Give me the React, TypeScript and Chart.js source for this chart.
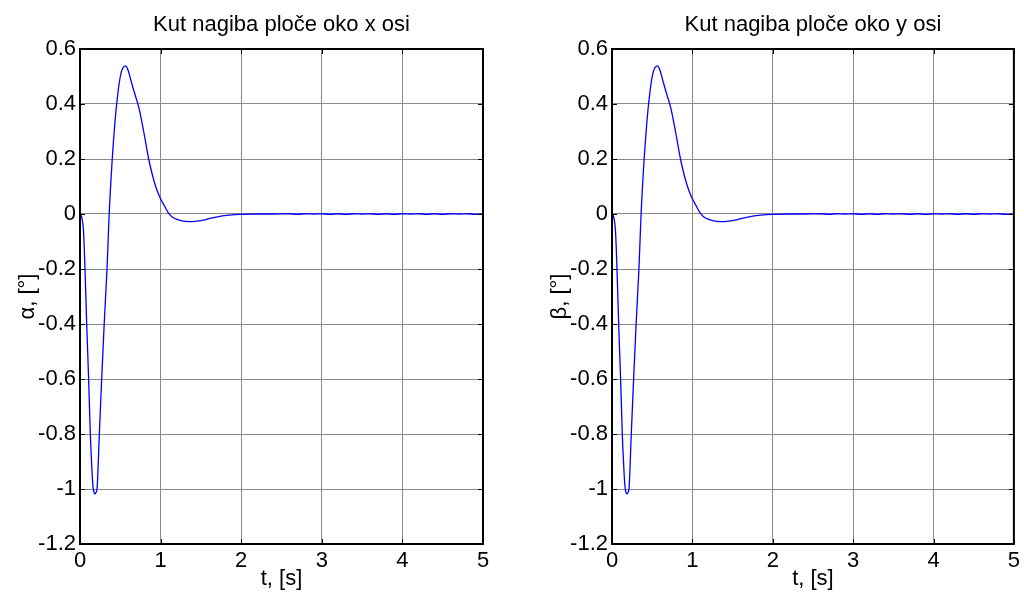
import React, { useEffect, useRef } from "react";
import { Chart, registerables } from "chart.js";

Chart.register(...registerables);

// time axis samples [s]
const timeValues = [
  0, 0.02, 0.037, 0.045, 0.062, 0.083, 0.107, 0.128, 0.15, 0.161, 0.175, 0.186, 0.198, 0.211,
  0.24, 0.269, 0.3, 0.335, 0.362, 0.4, 0.43, 0.455, 0.5, 0.53, 0.567, 0.6, 0.637, 0.687, 0.732,
  0.79, 0.852, 0.9, 0.939, 0.988, 1.05, 1.096, 1.14, 1.19, 1.25, 1.357, 1.45, 1.55, 1.69, 1.85, 2.0,
  2.2, 2.4, 2.6, 2.7, 2.8, 2.9, 3.0, 3.1, 3.2, 3.3, 3.4, 3.5, 3.6, 3.7, 3.8, 3.9, 4.0, 4.1,
  4.2, 4.3, 4.4, 4.5, 4.6, 4.7, 4.8, 4.9, 5.0,
];

// tilt angle about x axis [deg]
const alphaValues = [
  0, -0.01, -0.04, -0.07, -0.2, -0.4, -0.6, -0.8, -0.94, -0.99, -1.013, -1.018, -1.013, -1.0,
  -0.8, -0.6, -0.4, -0.2, 0, 0.2, 0.32, 0.4, 0.5, 0.53, 0.539, 0.52, 0.48, 0.43, 0.385,
  0.3, 0.2, 0.14, 0.1, 0.063, 0.028, 0.004, -0.01, -0.018, -0.024, -0.028, -0.026, -0.021, -0.011, -0.004, -0.001,
  0, 0, 0.001, -0.001, 0.001, 0, 0.001, -0.001, 0.001, -0.001, 0.001, 0, 0.001, -0.001, 0.001, -0.001,
  0.001, 0, 0.001, -0.001, 0.001, -0.001, 0.001, 0, 0.001, -0.001, 0,
];

// tilt angle about y axis [deg]
const betaValues = [
  0, -0.01, -0.04, -0.07, -0.2, -0.4, -0.6, -0.8, -0.94, -0.99, -1.013, -1.018, -1.013, -1.0,
  -0.8, -0.6, -0.4, -0.2, 0, 0.2, 0.32, 0.4, 0.5, 0.53, 0.539, 0.52, 0.48, 0.43, 0.385,
  0.3, 0.2, 0.14, 0.1, 0.063, 0.028, 0.004, -0.01, -0.018, -0.024, -0.028, -0.026, -0.021, -0.011, -0.004, -0.001,
  0, 0, 0.001, -0.001, 0.001, 0, 0.001, -0.001, 0.001, -0.001, 0.001, 0, 0.001, -0.001, 0.001, -0.001,
  0.001, 0, 0.001, -0.001, 0.001, -0.001, 0.001, 0, 0.001, -0.001, 0,
];

const xTickValues = [0, 1, 2, 3, 4, 5];
const yTickValues = [-1.2, -1, -0.8, -0.6, -0.4, -0.2, 0, 0.2, 0.4, 0.6];

const chartTitles = ["Kut nagiba ploče oko x osi", "Kut nagiba ploče oko y osi"];
const yAxisLabels = ["α, [°]", "β, [°]"];
const xAxisLabel = "t, [s]";

const FONT = "'Liberation Sans', Arial, Helvetica, sans-serif";

const framePlugin = {
  id: "frame",
  afterDatasetsDraw(chart: any) {
    const { ctx, chartArea, scales } = chart;
    const { left, right, top, bottom } = chartArea;
    ctx.save();
    ctx.strokeStyle = "#000";
    ctx.lineWidth = 1;
    ctx.beginPath();
    for (const v of xTickValues) {
      const px = Math.round(scales.x.getPixelForValue(v)) + 0.5;
      ctx.moveTo(px, bottom);
      ctx.lineTo(px, bottom - 5);
      ctx.moveTo(px, top);
      ctx.lineTo(px, top + 5);
    }
    for (const v of yTickValues) {
      const py = Math.round(scales.y.getPixelForValue(v)) + 0.5;
      ctx.moveTo(left, py);
      ctx.lineTo(left + 5, py);
      ctx.moveTo(right, py);
      ctx.lineTo(right - 5, py);
    }
    ctx.stroke();
    ctx.lineWidth = 2;
    ctx.strokeRect(left, top, right - left, bottom - top);
    ctx.restore();
  },
};

type PanelProps = {
  canvasLeft: number;
  padLeft: number;
  padRight: number;
  values: number[];
  title: string;
  yLabel: string;
};

function Panel({ canvasLeft, padLeft, padRight, values, title, yLabel }: PanelProps) {
  const ref = useRef<HTMLCanvasElement | null>(null);
  useEffect(() => {
    if (!ref.current) return;
    const points = timeValues.map((t, i) => ({ x: t, y: values[i] }));
    const chart = new Chart(ref.current, {
      type: "scatter",
      data: {
        datasets: [
          {
            data: points,
            showLine: true,
            borderColor: "#0000ff",
            borderWidth: 1.3,
            pointRadius: 0,
            cubicInterpolationMode: "monotone",
          } as any,
        ],
      },
      options: {
        animation: false,
        responsive: false,
        devicePixelRatio: 1,
        layout: { padding: { left: padLeft, right: padRight, top: 0, bottom: 0 } },
        plugins: {
          legend: { display: false },
          tooltip: { enabled: false },
          title: {
            display: true,
            fullSize: false,
            text: title,
            color: "#000",
            font: { family: FONT, size: 22, weight: "normal" },
            padding: { top: 12, bottom: 10.6 },
          },
        },
        scales: {
          x: {
            type: "linear",
            min: 0,
            max: 5,
            afterBuildTicks: (s: any) => {
              s.ticks = xTickValues.map((v) => ({ value: v }));
            },
            afterFit: (s: any) => {
              s.height = 53;
            },
            ticks: {
              color: "#000",
              font: { family: FONT, size: 22 },
              padding: 4,
              maxRotation: 0,
              autoSkip: false,
              callback: (v: any) => String(v),
            },
            grid: { color: "#8a8a8a", lineWidth: 1, drawTicks: false },
            border: { display: false },
            title: {
              display: true,
              text: xAxisLabel,
              color: "#000",
              font: { family: FONT, size: 22 },
              padding: { top: 0, bottom: 5 },
            },
          },
          y: {
            type: "linear",
            min: -1.2,
            max: 0.6,
            afterBuildTicks: (s: any) => {
              s.ticks = yTickValues.map((v) => ({ value: v }));
            },
            afterFit: (s: any) => {
              s.width = 65;
            },
            ticks: {
              color: "#000",
              font: { family: FONT, size: 22 },
              padding: 4,
              autoSkip: false,
              callback: (v: any) => String(Math.round(Number(v) * 10) / 10 || 0),
            },
            grid: { color: "#8a8a8a", lineWidth: 1, drawTicks: false },
            border: { display: false },
            title: {
              display: true,
              text: yLabel,
              color: "#000",
              font: { family: FONT, size: 22 },
              padding: { top: 0, bottom: 0 },
            },
          },
        },
      },
      plugins: [framePlugin],
    });
    return () => chart.destroy();
  }, [padLeft, padRight, values, title, yLabel]);

  return (
    <canvas
      ref={ref}
      width={512}
      height={597}
      style={{ position: "absolute", left: canvasLeft, top: 0, width: 512, height: 597, display: "block" }}
    />
  );
}

export default function App() {
  return (
    <div style={{ position: "fixed", left: 0, top: 0, width: 1024, height: 597, background: "#fff", overflow: "hidden" }}>
      <Panel canvasLeft={0} padLeft={15} padRight={29} values={alphaValues} title={chartTitles[0]} yLabel={yAxisLabels[0]} />
      <Panel canvasLeft={512} padLeft={35} padRight={7} values={betaValues} title={chartTitles[1]} yLabel={yAxisLabels[1]} />
    </div>
  );
}
